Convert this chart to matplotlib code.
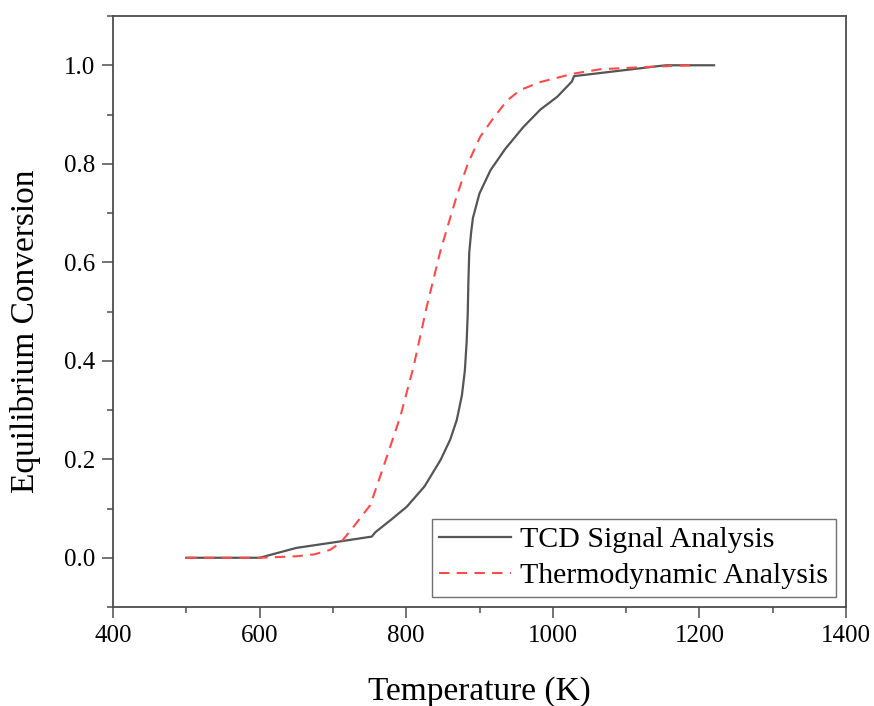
import numpy as np
import matplotlib
matplotlib.use("Agg")
import matplotlib.pyplot as plt
from matplotlib.ticker import MultipleLocator

plt.rcParams["font.family"] = ["Liberation Serif", "DejaVu Serif"]

# TCD signal analysis
tcd_T = [500, 600, 650, 700, 753, 758, 780, 801, 825, 847, 860, 869, 876, 880,
         882.5, 884, 884.8, 886, 888.5, 891, 900, 915, 935, 960, 983, 1006,
         1026, 1029, 1154, 1220]
tcd_X = [0.0, 0.0, 0.020, 0.031, 0.043, 0.052, 0.078, 0.104, 0.145, 0.199,
         0.240, 0.280, 0.330, 0.380, 0.440, 0.500, 0.560, 0.620, 0.660, 0.690,
         0.740, 0.787, 0.830, 0.875, 0.910, 0.936, 0.967, 0.978, 1.0, 1.0]

# thermodynamic analysis
thermo_T = [500, 600, 650, 675, 696, 710, 724, 751, 769, 792, 810, 828, 847,
            869, 884, 901, 920, 938, 956, 983, 1028, 1065, 1134, 1188]
thermo_X = [0.0, 0.0, 0.003, 0.007, 0.016, 0.030, 0.055, 0.107, 0.185, 0.287,
            0.388, 0.510, 0.625, 0.735, 0.800, 0.855, 0.895, 0.929, 0.950,
            0.966, 0.983, 0.992, 0.997, 1.0]

edge = "#4d4d4d"

fig = plt.figure(figsize=(8.74, 7.06), dpi=100)
ax = fig.add_axes([0.1293, 0.1402, 0.8387, 0.8371])

ax.plot(tcd_T, tcd_X, color="#555555", lw=1.6, label="TCD Signal Analysis")
ax.plot(thermo_T, thermo_X, color="#ff4a4a", lw=1.5, dashes=(5, 3.5),
        label="Thermodynamic Analysis")

ax.set_xlim(400, 1400)
ax.set_ylim(-0.1, 1.1)
ax.xaxis.set_major_locator(MultipleLocator(200))
ax.xaxis.set_minor_locator(MultipleLocator(100))
ax.yaxis.set_minor_locator(MultipleLocator(0.1))
ax.set_yticks([0.0, 0.2, 0.4, 0.6, 0.8, 1.0])
ax.set_yticklabels(["0.0", "0.2", "0.4", "0.6", "0.8", "1.0"])

ax.tick_params(which="major", direction="out", length=8, width=1.1, color=edge,
               labelsize=18, pad=5)
ax.tick_params(which="minor", direction="out", length=4.5, width=1.1, color=edge)
ax.tick_params(top=False, right=False, which="both")
for s in ax.spines.values():
    s.set_color(edge)
    s.set_linewidth(1.3)

ax.set_xlabel("Temperature (K)", fontsize=24, labelpad=21)
ax.set_ylabel("Equilibrium Conversion", fontsize=24)
ax.yaxis.set_label_coords(-0.098, 0.467)

leg = ax.legend(loc="lower right", fontsize=21.5, frameon=True, fancybox=False,
                edgecolor=edge, handlelength=2.4, handletextpad=0.3,
                borderpad=0.25, labelspacing=0.3, borderaxespad=0.35)
leg.get_frame().set_linewidth(1.0)

fig.savefig("out.png", dpi=100)
